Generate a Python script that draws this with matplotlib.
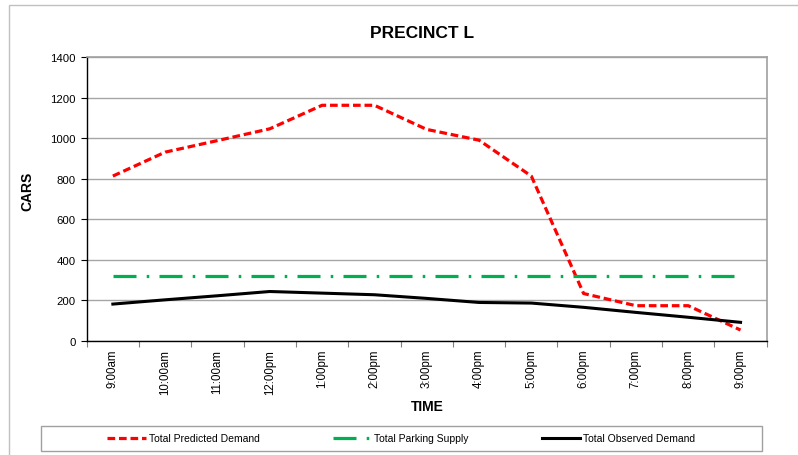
import matplotlib
matplotlib.use("Agg")
import matplotlib.pyplot as plt
from matplotlib.patches import Rectangle

plt.rcParams['font.family'] = ['Liberation Sans', 'DejaVu Sans']

times = ["9:00am", "10:00am", "11:00am", "12:00pm", "1:00pm", "2:00pm", "3:00pm",
         "4:00pm", "5:00pm", "6:00pm", "7:00pm", "8:00pm", "9:00pm"]
predicted = [813, 931, 988, 1046, 1162, 1162, 1043, 990, 813, 234, 174, 174, 54]
supply = [318] * 13
observed = [182, 203, 223, 244, 236, 228, 210, 190, 187, 166, 141, 117, 92]
y_ticks = [0, 200, 400, 600, 800, 1000, 1200, 1400]

W, H = 798, 456
fig = plt.figure(figsize=(W / 100, H / 100), dpi=100)

# outer chart border (left and top visible)
fig.patches.append(Rectangle((8.7 / W, -0.1), 1.2, (H - 6) / H + 0.1,
                             transform=fig.transFigure, fill=False,
                             edgecolor='#c0c0c0', linewidth=1.0))

ax = fig.add_axes([86.7 / W, 1 - 342 / H, (766.7 - 86.7) / W, (342 - 58) / H])
x = list(range(len(times)))

red_line, = ax.plot(x, predicted, color='#ff0000', linewidth=2.3,
                    dashes=(2.4, 1.2), dash_capstyle='butt',
                    label='Total Predicted Demand', zorder=3)
green_line, = ax.plot(x, supply, color='#00b050', linewidth=2.3,
                      dashes=(7.2, 3.2, 0.8, 3.2), dash_capstyle='butt',
                      label='Total Parking Supply', zorder=3)
black_line, = ax.plot(x, observed, color='#000000', linewidth=2.2,
                      label='Total Observed Demand', zorder=3)

ax.set_xlim(-0.5, len(times) - 0.5)
ax.set_ylim(0, 1400)
ax.set_yticks(y_ticks)
ax.set_yticklabels([str(v) for v in y_ticks], fontsize=8.2)
ax.grid(axis='y', color='#a6a6a6', linewidth=1.0)
ax.set_axisbelow(True)

ax.set_xticks(x)
ax.set_xticklabels(times, rotation=90, fontsize=8.3, va='top', ha='center')
ax.set_xticks([i - 0.5 for i in range(len(times) + 1)], minor=True)
ax.tick_params(axis='x', which='major', length=0, pad=5.5)
ax.tick_params(axis='x', which='minor', length=4, width=0.8, color='#808080')
ax.tick_params(axis='y', length=4, width=0.8, pad=4)

for side in ['top', 'right']:
    ax.spines[side].set_color('#a0a0a0')
    ax.spines[side].set_linewidth(1.2)
for side in ['left', 'bottom']:
    ax.spines[side].set_color('#000000')
    ax.spines[side].set_linewidth(1.0)

fig.text(422 / W, 1 - 34 / H, 'PRECINCT L', fontsize=12.5, fontweight='bold',
         ha='center', va='center')
fig.text(427.5 / W, 1 - 407 / H, 'TIME', fontsize=10, fontweight='bold',
         ha='center', va='center')
fig.text(27 / W, 1 - 191 / H, 'CARS', fontsize=10, fontweight='bold',
         ha='center', va='center', rotation=90)

# legend box
fig.patches.append(Rectangle((40.7 / W, 1 - 452 / H), (762 - 40.7) / W, 25 / H,
                             transform=fig.transFigure, fill=False,
                             edgecolor='#a0a0a0', linewidth=1.0))
leg = fig.legend(handles=[red_line, green_line, black_line], loc='center',
                 bbox_to_anchor=((40.7 + 762) / 2 / W, 1 - 439.5 / H),
                 ncol=3, frameon=False, fontsize=7.5, handlelength=3.7,
                 handletextpad=0.3, columnspacing=7.0)

fig.savefig('out.png', dpi=100)
